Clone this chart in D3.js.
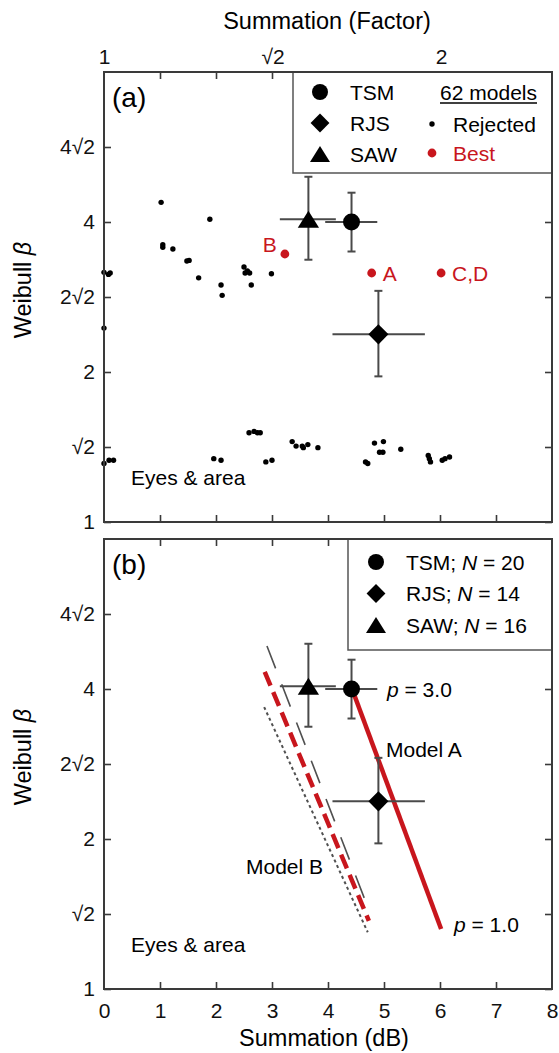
<!DOCTYPE html>
<html>
<head>
<meta charset="utf-8">
<script src="https://cdn.jsdelivr.net/npm/d3@7"></script>
<style>
  body { margin: 0; background: #fff; }
  svg { display: block; font-family: "Liberation Sans", Arial, sans-serif; }
  .frame { fill: none; stroke: #3a3a3a; stroke-width: 2; }
  .tick line { stroke: #3a3a3a; stroke-width: 1.6; }
  .tick text { fill: #111; }
</style>
</head>
<body>
<svg id="chart" width="559" height="1053"></svg>
<script>
// =========
// DATA
// =========

const red = "#c8161d";

// observer estimates (summation dB, Weibull beta), with error extents
const observers = ["TSM", "RJS", "SAW"];
const obsN = [20, 14, 16];
const obsDb = [4.42, 4.90, 3.65];
const obsDbLo = [3.95, 4.08, 3.14];
const obsDbHi = [4.88, 5.73, 4.14];
const obsBeta = [4.0, 2.38, 4.05];
const obsBetaLo = [3.49, 1.96, 3.36];
const obsBetaHi = [4.58, 2.91, 4.93];

// rejected models (panel a)
const rejDb = [0.00, 0.08, 0.11, 0.00, 1.02, 1.05, 1.05, 1.23, 1.48, 1.52,
  1.69, 1.89, 2.09, 2.11, 2.50, 2.52, 2.56, 2.60, 2.63, 2.99,
  0.00, 0.09, 0.17, 1.96, 2.09, 2.59, 2.68, 2.74, 2.79, 2.89,
  3.00, 3.36, 3.43, 3.54, 3.56, 3.64, 3.82, 4.67, 4.71, 4.83,
  4.92, 4.98, 4.99, 5.30, 5.79, 5.81, 5.83, 6.04, 6.09, 6.17];
const rejBeta = [3.17, 3.14, 3.16, 2.45, 4.38, 3.60, 3.56, 3.53, 3.34, 3.35,
  3.09, 4.05, 2.99, 2.85, 3.25, 3.16, 3.19, 3.16, 2.99, 3.15,
  1.31, 1.33, 1.33, 1.34, 1.33, 1.51, 1.52, 1.51, 1.51, 1.32,
  1.33, 1.45, 1.42, 1.42, 1.41, 1.43, 1.41, 1.32, 1.31, 1.44,
  1.38, 1.38, 1.45, 1.40, 1.36, 1.34, 1.32, 1.33, 1.34, 1.35];

// best models (panel a)
const bestLabels = ["B", "A", "C,D"];
const bestDb = [3.23, 4.78, 6.02];
const bestBeta = [3.45, 3.16, 3.16];

// model curves (panel b)
const modelADb = [4.43, 6.02];
const modelABeta = [4.0, 1.32];
const modelBDb = [2.87, 4.73];
const modelBBeta = [4.33, 1.37];
const upperDb = [2.91, 4.70];
const upperBeta = [4.88, 1.47];
const lowerDb = [2.86, 4.71];
const lowerBeta = [3.68, 1.30];

// axes
const dbTicks = [0, 1, 2, 3, 4, 5, 6, 7, 8];
const betaTicks = [1, Math.SQRT2, 2, 2 * Math.SQRT2, 4, 4 * Math.SQRT2];
const betaLabels = ["1", "\u221A2", "2", "2\u221A2", "4", "4\u221A2"];
const factorTicks = [1, Math.SQRT2, 2];
const factorLabels = ["1", "\u221A2", "2"];

// =========
// LAYOUT
// =========

const svg = d3.select("#chart");
const left = 104, right = 552;
const panels = [{ top: 72, bottom: 522, tag: "(a)" }, { top: 539, bottom: 989, tag: "(b)" }];

const x = d3.scaleLinear().domain([0, 8]).range([left, right]);
const factor = d3.scaleLog().base(2).domain([1, Math.pow(10, 8 / 20)]).range([left, right]);

const fs = 21;

function symbolPath(k, s) {
  if (k === 0) return d3.symbol(d3.symbolCircle, Math.PI * s * s)();
  if (k === 1) return `M0,${-s * 1.18}L${s * 1.18},0L0,${s * 1.18}L${-s * 1.18},0Z`;
  const h = s * 2;
  return `M0,${-h * 0.5}L${s * 1.25},${h * 0.5}L${-s * 1.25},${h * 0.5}Z`;
}

function drawPanel(p, idx) {
  const y = d3.scaleLog().base(2).domain([1, 8]).range([p.bottom, p.top]);
  p.y = y;
  const g = svg.append("g");

  // axes, inward ticks
  const gl = g.append("g").attr("transform", `translate(${left},0)`)
    .call(d3.axisLeft(y).tickValues(betaTicks).tickSize(-7).tickPadding(9)
      .tickFormat((d, i) => betaLabels[i]));
  gl.selectAll("text").style("font-size", fs + "px");
  g.append("g").attr("transform", `translate(${right},0)`)
    .call(d3.axisRight(y).tickValues(betaTicks).tickSize(-7).tickFormat(""));
  const gb = g.append("g").attr("transform", `translate(0,${p.bottom})`)
    .call(d3.axisBottom(x).tickValues(dbTicks.slice(1, 8)).tickSize(-7).tickPadding(14));
  if (idx === 1) {
    g.append("g").attr("transform", `translate(0,${p.bottom})`)
      .call(d3.axisBottom(x).tickValues(dbTicks).tickSize(0).tickPadding(14))
      .selectAll("text").style("font-size", fs + "px");
  }
  gb.selectAll("text").remove();
  g.append("g").attr("transform", `translate(0,${p.top})`)
    .call(d3.axisTop(x).tickValues(dbTicks.slice(1, 8)).tickSize(-7).tickFormat(""));
  g.selectAll(".domain").remove();

  g.append("text").attr("class", "wtitle")
    .attr("transform", `translate(31,${(p.top + p.bottom) / 2 - 7}) rotate(-90)`)
    .attr("text-anchor", "middle").style("font-size", "23.5px")
    .call(t => {
      t.append("tspan").text("Weibull ");
      t.append("tspan").style("font-style", "italic").text("\u03B2");
    });

  g.append("text").attr("x", 112).attr("y", p.top + 35).style("font-size", "28px").text(p.tag);

  g.append("text").attr("x", 131).attr("y", p.bottom - 37).style("font-size", fs + "px")
    .text("Eyes & area");
  return g;
}

function drawObservers(g, y) {
  const eb = g.append("g").attr("stroke", "#4a4a4a").attr("stroke-width", 2);
  observers.forEach((o, i) => {
    eb.append("line").attr("x1", x(obsDbLo[i])).attr("x2", x(obsDbHi[i]))
      .attr("y1", y(obsBeta[i])).attr("y2", y(obsBeta[i]));
    eb.append("line").attr("x1", x(obsDb[i])).attr("x2", x(obsDb[i]))
      .attr("y1", y(obsBetaLo[i])).attr("y2", y(obsBetaHi[i]));
    [obsBetaLo[i], obsBetaHi[i]].forEach(v => {
      eb.append("line").attr("x1", x(obsDb[i]) - 4).attr("x2", x(obsDb[i]) + 4)
        .attr("y1", y(v)).attr("y2", y(v));
    });
  });
  observers.forEach((o, i) => {
    g.append("path").attr("d", symbolPath(i, 8.5))
      .attr("transform", `translate(${x(obsDb[i])},${y(obsBeta[i])})`).attr("fill", "#000");
  });
}

const ga = drawPanel(panels[0], 0);
const gbp = drawPanel(panels[1], 1);
const ya = panels[0].y, yb = panels[1].y;

// top factor axis
const gt = svg.append("g").attr("transform", `translate(0,${panels[0].top})`)
  .call(d3.axisTop(factor).tickValues(factorTicks).tickSize(0).tickPadding(8.5)
    .tickFormat((d, i) => factorLabels[i]));
gt.select(".domain").remove();
gt.selectAll("text").style("font-size", fs + "px");

svg.append("text").attr("x", 327).attr("y", 29).attr("text-anchor", "middle")
  .style("font-size", "23.5px").text("Summation (Factor)");
svg.append("text").attr("x", 324).attr("y", 1046).attr("text-anchor", "middle")
  .style("font-size", "23.5px").text("Summation (dB)");

// ---- panel (a) ----
ga.append("g").selectAll("circle").data(rejDb).enter().append("circle")
  .attr("cx", (d) => x(d)).attr("cy", (d, i) => ya(rejBeta[i])).attr("r", 2.7).attr("fill", "#000");

ga.append("g").selectAll("circle").data(bestDb).enter().append("circle")
  .attr("cx", (d) => x(d)).attr("cy", (d, i) => ya(bestBeta[i])).attr("r", 4.4).attr("fill", red);
bestLabels.forEach((l, i) => {
  const t = ga.append("text").style("font-size", fs + "px").attr("fill", red).text(l);
  if (i === 0) t.attr("x", x(bestDb[i]) - 8).attr("y", ya(bestBeta[i]) - 2).attr("text-anchor", "end");
  else t.attr("x", x(bestDb[i]) + 11).attr("y", ya(bestBeta[i]) + 7.5);
});

drawObservers(ga, ya);

// legend (a)
const la = ga.append("g");
la.append("rect").attr("x", 293).attr("y", panels[0].top).attr("width", right - 293).attr("height", 101)
  .attr("fill", "#fff").attr("stroke", "#555").attr("stroke-width", 1.5);
observers.forEach((o, i) => {
  const cy = 92 + i * 31;
  la.append("path").attr("d", symbolPath(i, 8)).attr("transform", `translate(320,${cy})`);
  la.append("text").attr("x", 350).attr("y", cy + 7.5).style("font-size", fs + "px").text(o);
});
la.append("text").attr("x", 537).attr("y", 100).attr("text-anchor", "end").style("font-size", fs + "px")
  .text("62 models");
la.append("line").attr("x1", 440).attr("x2", 537).attr("y1", 103).attr("y2", 103)
  .attr("stroke", "#000").attr("stroke-width", 1.3);
la.append("circle").attr("cx", 432).attr("cy", 124).attr("r", 2.7).attr("fill", "#000");
la.append("text").attr("x", 453).attr("y", 131.5).style("font-size", fs + "px").text("Rejected");
la.append("circle").attr("cx", 432).attr("cy", 153).attr("r", 4.4).attr("fill", red);
la.append("text").attr("x", 453).attr("y", 161).style("font-size", fs + "px").attr("fill", red).text("Best");

ga.append("rect").attr("class", "frame").attr("x", left).attr("y", panels[0].top)
  .attr("width", right - left).attr("height", panels[0].bottom - panels[0].top);

// ---- panel (b) ----
const line = (xs, ys) => d3.line().x((d) => x(d)).y((d, i) => yb(ys[i]))(xs);

gbp.append("path").attr("d", line(lowerDb, lowerBeta)).attr("fill", "none")
  .attr("stroke", "#505050").attr("stroke-width", 2).attr("stroke-dasharray", "3,3");
gbp.append("path").attr("d", line(upperDb, upperBeta)).attr("fill", "none")
  .attr("stroke", "#505050").attr("stroke-width", 1.6).attr("stroke-dasharray", "24,17");
gbp.append("path").attr("d", line(modelBDb, modelBBeta)).attr("fill", "none")
  .attr("stroke", red).attr("stroke-width", 4.5).attr("stroke-dasharray", "15,7");
gbp.append("path").attr("d", line(modelADb, modelABeta)).attr("fill", "none")
  .attr("stroke", red).attr("stroke-width", 4.5);

drawObservers(gbp, yb);

gbp.append("text").attr("x", 386).attr("y", 757).style("font-size", fs + "px").text("Model A");
gbp.append("text").attr("x", 246).attr("y", 874).style("font-size", fs + "px").text("Model B");
function pLabel(xp, yp, val) {
  gbp.append("text").attr("x", xp).attr("y", yp).style("font-size", fs + "px").call(t => {
    t.append("tspan").style("font-style", "italic").text("p");
    t.append("tspan").text(" = " + val);
  });
}
pLabel(387, 697, "3.0");
pLabel(454, 932, "1.0");

// legend (b)
const lb = gbp.append("g");
lb.append("rect").attr("x", 348).attr("y", panels[1].top).attr("width", right - 348).attr("height", 111)
  .attr("fill", "#fff").attr("stroke", "#555").attr("stroke-width", 1.5);
observers.forEach((o, i) => {
  const cy = 562 + i * 31.5;
  lb.append("path").attr("d", symbolPath(i, 8)).attr("transform", `translate(376,${cy})`);
  lb.append("text").attr("x", 406).attr("y", cy + 7.5).style("font-size", fs + "px").call(t => {
    t.append("tspan").text(o + "; ");
    t.append("tspan").style("font-style", "italic").text("N");
    t.append("tspan").text(" = " + obsN[i]);
  });
});

gbp.append("rect").attr("class", "frame").attr("x", left).attr("y", panels[1].top)
  .attr("width", right - left).attr("height", panels[1].bottom - panels[1].top);
</script>
</body>
</html>
